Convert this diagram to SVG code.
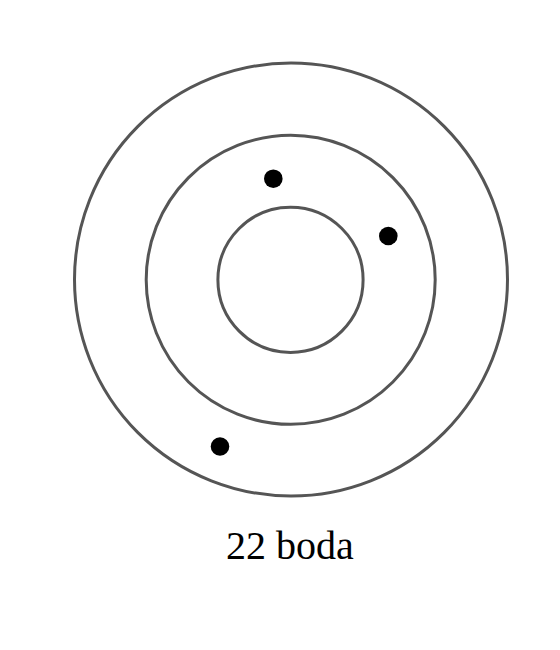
<svg xmlns="http://www.w3.org/2000/svg" width="560" height="650" viewBox="0 0 560 650">
<style>
.ring{fill:none;stroke:#555;stroke-width:3}
.dot{fill:#000}
.lbl{font-family:"Liberation Serif","Times New Roman",serif;font-size:40px;fill:#000;text-anchor:middle}
</style>
<rect width="560" height="650" fill="#fff"/>
<g id="rings">
<circle class="ring" cx="291" cy="279.5" r="216.5"/>
<circle class="ring" cx="290.7" cy="279.8" r="144.5"/>
<circle class="ring" cx="290.5" cy="279.8" r="72.6"/>
</g>
<g id="dots">
<circle class="dot" cx="273.3" cy="178.7" r="9.3"/>
<circle class="dot" cx="388.3" cy="236" r="9.3"/>
<circle class="dot" cx="220" cy="446.5" r="9.3"/>
</g>
<g id="label">
<text class="lbl" x="290" y="559">22 boda</text>
</g>
</svg>
